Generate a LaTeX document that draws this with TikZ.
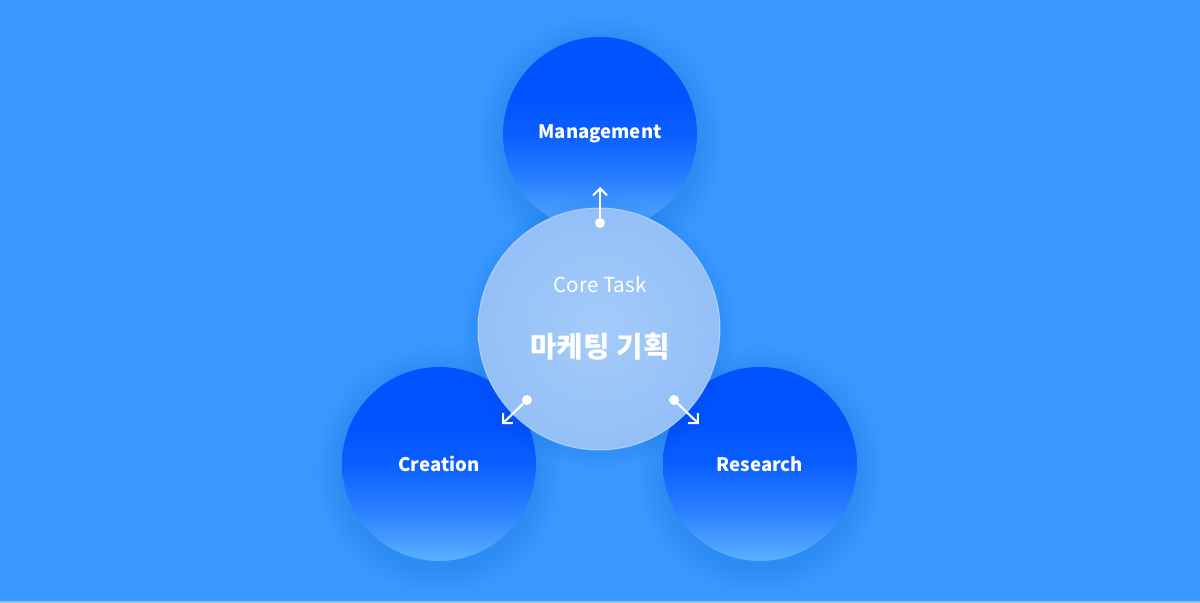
\documentclass[tikz,border=0pt]{standalone}
\usepackage{fontspec}
\setmainfont{Noto Sans CJK KR}
\newfontfamily\kr{Noto Sans CJK KR}
\usetikzlibrary{arrows.meta}
\definecolor{bg}{HTML}{3898FF}
\definecolor{deep}{HTML}{0054FF}
\definecolor{mid}{HTML}{0A5EFF}
\definecolor{midlow}{HTML}{2A80FF}
\definecolor{light}{HTML}{5CB0FF}
\definecolor{glass}{HTML}{A4CBF9}
\definecolor{glassedge}{HTML}{94BFF7}
\definecolor{shadowc}{HTML}{0A4FD0}
\definecolor{bottomline}{HTML}{8CC6FF}
\pgfdeclareverticalshading{ballshade}{100bp}{color(0bp)=(light); color(25bp)=(light); color(38bp)=(midlow); color(50bp)=(mid); color(60bp)=(deep); color(75bp)=(deep); color(100bp)=(deep)}
\tikzset{
  outerc/.style={circle, minimum size=97pt, inner sep=0pt,
    shading=ballshade, shading angle=0,
    text=white, font=\kr\bfseries\fontsize{9.3}{12}\selectfont},
  corec/.style={circle, minimum size=121pt, inner sep=0pt,
    inner color=glass, outer color=glassedge,
    draw=white, draw opacity=0.4, line width=0.5pt},
  dotn/.style={circle, fill=white, minimum size=5pt, inner sep=0pt},
  arr/.style={draw=white, line width=1.1pt, -{Straight Barb[length=3.5pt,width=7pt,line width=1pt]}},
}
\begin{document}
\begin{tikzpicture}[x=0.5pt,y=-0.5pt]
\fill[bg] (0,0) rectangle (1200,603);
\fill[bottomline] (0,601.5) rectangle (1200,603);
\useasboundingbox (0,0) rectangle (1200,603);
% soft shadows
\foreach \cx/\cy in {600/134, 439/464, 760/464}{
  \foreach \i in {1,...,12}{
    \fill[shadowc, opacity=0.011] (\cx,\cy+6) circle[radius=48.5pt+\i*1.1pt];
  }
}
\node[outerc] (man) at (600,134) {Management};
\node[outerc] (cre) at (439,464) {Creation};
\node[outerc] (res) at (760,464) {Research};
\foreach \i in {1,...,8}{
  \fill[shadowc, opacity=0.012] (599,332) circle[radius=60.5pt+\i*1pt];
}
\node[corec] (core) at (599,329) {};
\node[text=white, font=\kr\fontsize{10.3}{12}\selectfont] (task) at (600,284) {Core Task};
\node[text=white, font=\kr\bfseries\fontsize{14.4}{18}\selectfont] (title) at (600,347) {마케팅 기획};
% arrows
\node[dotn] (dtop) at (600,223) {};
\node[dotn] (dleft) at (527,400) {};
\node[dotn] (dright) at (674,400) {};
\coordinate (ttop) at (600,187);
\coordinate (tleft) at (502,424);
\coordinate (tright) at (699,424);
\draw[arr] (dtop.center) -- (ttop);
\draw[arr] (dleft.center) -- (tleft);
\draw[arr] (dright.center) -- (tright);
\end{tikzpicture}
\end{document}
